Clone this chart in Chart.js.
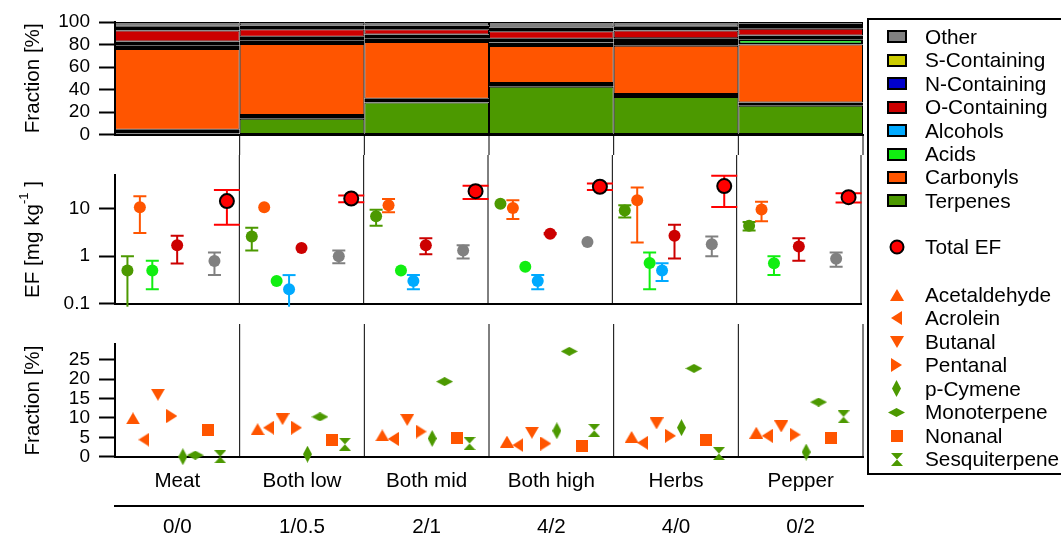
<!DOCTYPE html>
<html>
<head>
<meta charset="utf-8">
<script src="https://cdn.jsdelivr.net/npm/chart.js"></script>
<style>
html,body{margin:0;padding:0;background:#fff;width:1061px;height:534px;overflow:hidden;position:relative;}
canvas{position:absolute;left:0;display:block;}
.lg{position:absolute;font-family:'Liberation Sans',Arial,sans-serif;font-size:20.8px;line-height:24px;height:24px;white-space:nowrap;color:#000;}
.sw{position:absolute;box-sizing:border-box;border:2px solid #000;width:20px;height:13px;}
</style>
</head>
<body>
<canvas id="cA" width="870" height="155" style="top:0px"></canvas>
<canvas id="cB" width="870" height="169" style="top:155px"></canvas>
<canvas id="cC" width="870" height="210" style="top:324px"></canvas>
<div id="legendBox" style="position:absolute;left:867px;top:18px;width:210px;height:457px;border:2px solid #000;box-sizing:border-box;"></div>
<div id="legend"></div>
<script>
// ---------------- DATA ----------------
const categories = ['Meat', 'Both low', 'Both mid', 'Both high', 'Herbs', 'Pepper'];
const ratioLabels = ['0/0', '1/0.5', '2/1', '4/2', '4/0', '0/2'];
const fracTicks = [0, 20, 40, 60, 80, 100];
const efTicks = [0.1, 1, 10];
const compTicks = [0, 5, 10, 15, 20, 25];

// Top panel: fraction of total EF [%]
const fracTerpenes     = [1.0, 14.0, 28.6, 42.5, 33.3, 25.7];
const fracNContaining  = [3.2, 3.3, 3.3, 3.3, 2.8, 2.9];
const fracCarbonyls    = [71.8, 63.1, 50.4, 32.9, 42.9, 51.4];
const fracAcids        = [3.3, 3.3, 3.3, 3.2, 3.3, 4.7];
const fracAlcohols     = [3.3, 3.3, 3.3, 3.2, 3.3, 3.3];
const fracOContaining  = [9.8, 6.5, 4.6, 6.7, 6.8, 6.0];
const fracSContaining  = [3.3, 3.3, 3.3, 3.3, 3.3, 3.3];
const fracOther        = [4.3, 3.2, 3.2, 4.9, 4.3, 2.7];

// Middle panel: EF [mg/kg] with lower / upper error limits
const efTerpenes    = [0.5, 2.6, 7.0, 12.8, 9.3, 4.4];
const efTerpenesLo  = [0.086, 1.33, 4.4, null, 6.6, 3.5];
const efTerpenesHi  = [1.0, 4.0, 9.6, null, 11.9, 5.3];
const efCarbonyls   = [10.8, 10.8, 12.0, 10.4, 15.2, 9.7];
const efCarbonylsLo = [3.1, null, 8.5, 6.1, 1.94, 5.5];
const efCarbonylsHi = [18.5, null, 16.1, 15.2, 28.2, 14.1];
const efAcids       = [0.5, 0.3, 0.5, 0.6, 0.72, 0.71];
const efAcidsLo     = [0.2, null, null, null, 0.2, 0.4];
const efAcidsHi     = [0.8, null, null, null, 1.2, 1.0];
const efAlcohols    = [null, 0.2, 0.3, 0.3, 0.5, null];
const efAlcoholsLo  = [null, 0.086, 0.2, 0.2, 0.3, null];
const efAlcoholsHi  = [null, 0.4, 0.4, 0.4, 0.71, null];
const efOCont       = [1.7, 1.5, 1.7, 3.0, 2.7, 1.6];
const efOContLo     = [0.7, null, 1.1, 2.9, 0.9, 0.8];
const efOContHi     = [2.7, null, 2.4, 3.1, 4.6, 2.4];
const efOther       = [0.79, 1.0, 1.33, 2.0, 1.8, 0.89];
const efOtherLo     = [0.4, 0.71, 0.9, null, 1.0, 0.6];
const efOtherHi     = [1.2, 1.33, 1.7, null, 2.6, 1.2];
const efTotal       = [14.6, 16.6, 23.7, 29.4, 30.4, 17.7];
const efTotalLo     = [4.65, 13.9, 16.1, 25.0, 11.0, 13.7];
const efTotalHi     = [25.0, 19.1, 30.8, 34.5, 50.0, 21.5];

// Bottom panel: compound fractions [%]
const acetaldehyde  = [9.9, 7.1, 5.5, 3.9, 5.1, 6.2];
const acrolein      = [4.4, 7.5, 4.6, 3.0, 3.6, 5.4];
const butanal       = [16.0, 9.7, 9.5, 6.2, 8.6, 7.8];
const pentanal      = [10.5, 7.5, 6.5, 3.4, 5.4, 5.7];
const pCymene       = [0.0, 0.65, 4.7, 6.7, 7.5, 1.2];
const monoterpene   = [0.4, 10.3, 19.4, 27.2, 22.8, 14.1];
const nonanal       = [6.8, 4.3, 4.8, 2.8, 4.2, 4.8];
const sesquiterpene = [0.0, 3.2, 3.4, 6.8, 0.8, 10.3];

// ---------------- STYLE ----------------
const FAM = "'Liberation Sans', Arial, sans-serif";
Chart.defaults.font.family = FAM;
Chart.defaults.color = '#000';
const C = {terp:'#4C9900', carb:'#FF5500', acid:'#11EE11', alc:'#00AAFF', ocont:'#CC0000',
           ncont:'#0000CC', scont:'#CCCC00', other:'#808080', total:'#FF0000'};
const tickFont = {family: FAM, size: 19};
const labFont = {family: FAM, size: 20.6};
const intTicks = s => { s.ticks = categories.map((c, i) => ({value: i})); };

function yAxisCommon(ticksArr, titleText) {
  return {
    afterBuildTicks: s => { s.ticks = ticksArr.map(v => ({value: v})); },
    ticks: {font: tickFont, color: '#000', padding: 9, autoSkip: false, callback: v => String(v)},
    grid: {drawOnChartArea: false, drawTicks: true, tickLength: 16, tickWidth: 2, tickColor: '#000'},
    border: {display: true, width: 2, color: '#000'},
    title: {display: !!titleText, text: titleText || '', font: labFont, color: '#000', padding: {top: 21, bottom: 0}},
    afterFit: s => { s.width = 115; }
  };
}
function sepPlugin(mode) {
  return {
    id: 'sep' + mode,
    beforeDatasetsDraw(chart) { if (mode !== 'A') draw(chart); },
    afterDatasetsDraw(chart) { if (mode === 'A') draw(chart); }
  };
  function draw(chart) {
    const {ctx, chartArea: a, scales: {x}} = chart;
    const y0 = mode === 'A' ? a.bottom : 0;
    const y1 = mode === 'A' ? chart.height : a.bottom;
    ctx.save(); ctx.strokeStyle = '#000'; ctx.lineWidth = 1;
    for (let i = 0; i < categories.length; i++) {
      const px = x.getPixelForValue(i + 0.5);
      ctx.beginPath(); ctx.moveTo(px, y0); ctx.lineTo(px, y1); ctx.stroke();
    }
    ctx.restore();
  }
}
const baseOpts = {responsive: false, animation: false, events: [],
  plugins: {legend: {display: false}, tooltip: {enabled: false}}};

// ---------------- TOP: stacked fractions ----------------
// thin classes get a heavy outline (clamped by Chart.js to half the bar height) so they read as dark bands
const thinBorder = ctx => { const v = ctx.raw && ctx.raw.y; return v > 4 ? 2 : 3; };
const fracSeries = [
  {name: 'Terpenes', vals: fracTerpenes, color: C.terp, bw: 1},
  {name: 'N-Containing', vals: fracNContaining, color: C.ncont, bw: thinBorder},
  {name: 'Carbonyls', vals: fracCarbonyls, color: C.carb, bw: 1},
  {name: 'Acids', vals: fracAcids, color: C.acid, bw: thinBorder},
  {name: 'Alcohols', vals: fracAlcohols, color: C.alc, bw: thinBorder},
  {name: 'O-Containing', vals: fracOContaining, color: C.ocont, bw: 1},
  {name: 'S-Containing', vals: fracSContaining, color: C.scont, bw: thinBorder},
  {name: 'Other', vals: fracOther, color: C.other, bw: 1}
];
new Chart(document.getElementById('cA'), {
  type: 'bar',
  data: {datasets: fracSeries.map(s => ({
    label: s.name, data: s.vals.map((v, i) => ({x: i, y: v})),
    backgroundColor: s.color, borderColor: '#000', borderWidth: s.bw, borderSkipped: false,
    barPercentage: 1, categoryPercentage: 1, stack: 'f', inflateAmount: 0
  }))},
  options: Object.assign({}, baseOpts, {
    layout: {padding: {left: 0, right: 7, top: 22, bottom: 0}},
    scales: {
      x: {type: 'linear', min: -0.5, max: 5.5, offset: false, stacked: true,
          afterBuildTicks: intTicks,
          ticks: {display: false}, grid: {display: false, offset: false},
          border: {display: true, width: 2, color: '#000'},
          afterFit: s => { s.height = 13; }},
      y: Object.assign({stacked: true, min: 0, max: 100}, yAxisCommon(fracTicks, 'Fraction [%]'))
    }
  }),
  plugins: [sepPlugin('A')]
});

// ---------------- MIDDLE: EF (log) ----------------
const efOffsets = {terp: 0.1, carb: 0.2, acid: 0.3, alc: 0.4, ocont: 0.5, other: 0.8, total: 0.9};
const efSeries = [
  {name: 'Terpenes', key: 'terp', v: efTerpenes, lo: efTerpenesLo, hi: efTerpenesHi},
  {name: 'Carbonyls', key: 'carb', v: efCarbonyls, lo: efCarbonylsLo, hi: efCarbonylsHi},
  {name: 'Acids', key: 'acid', v: efAcids, lo: efAcidsLo, hi: efAcidsHi},
  {name: 'Alcohols', key: 'alc', v: efAlcohols, lo: efAlcoholsLo, hi: efAlcoholsHi},
  {name: 'O-Containing', key: 'ocont', v: efOCont, lo: efOContLo, hi: efOContHi},
  {name: 'Other', key: 'other', v: efOther, lo: efOtherLo, hi: efOtherHi},
  {name: 'Total EF', key: 'total', v: efTotal, lo: efTotalLo, hi: efTotalHi}
];
const errorBars = {
  id: 'errorBars',
  beforeDatasetsDraw(chart) {
    const {ctx, scales: {x, y}} = chart;
    ctx.save(); ctx.lineWidth = 2;
    chart.data.datasets.forEach(ds => {
      const cap = ds.capHalf;
      ctx.strokeStyle = ds.errColor;
      ds.data.forEach(d => {
        if (d.lo == null || d.hi == null) return;
        const px = x.getPixelForValue(d.x);
        const pl = y.getPixelForValue(d.lo), ph = y.getPixelForValue(d.hi);
        ctx.beginPath(); ctx.moveTo(px, pl); ctx.lineTo(px, ph); ctx.stroke();
        ctx.beginPath();
        ctx.moveTo(px - cap, ph); ctx.lineTo(px + cap, ph);
        if (d.lo >= y.min) { ctx.moveTo(px - cap, pl); ctx.lineTo(px + cap, pl); }
        ctx.stroke();
      });
    });
    ctx.restore();
  }
};
const efTitle = {
  id: 'efTitle',
  afterDraw(chart) {
    const {ctx, chartArea: a} = chart;
    const fMain = '20.6px ' + FAM, fSup = '13px ' + FAM;
    ctx.save();
    ctx.translate(33, (a.top + a.bottom) / 2); ctx.rotate(-Math.PI / 2);
    ctx.fillStyle = '#000'; ctx.textBaseline = 'middle'; ctx.textAlign = 'left';
    ctx.font = fMain; const w1 = ctx.measureText('EF [mg kg').width, w3 = ctx.measureText(' ]').width;
    ctx.font = fSup; const w2 = ctx.measureText('-1').width;
    let xx = -(w1 + w2 + w3) / 2;
    ctx.font = fMain; ctx.fillText('EF [mg kg', xx, 0); xx += w1;
    ctx.font = fSup; ctx.fillText('-1', xx, -9); xx += w2;
    ctx.font = fMain; ctx.fillText(' ]', xx, 0);
    ctx.restore();
  }
};
new Chart(document.getElementById('cB'), {
  type: 'scatter',
  data: {datasets: efSeries.map(s => {
    const isTot = s.key === 'total';
    return {
      label: s.name,
      data: s.v.map((v, i) => v == null ? null : {x: i - 0.5 + efOffsets[s.key], y: v, lo: s.lo[i], hi: s.hi[i]}).filter(d => d),
      backgroundColor: C[s.key], borderColor: '#000', borderWidth: isTot ? 2 : 0,
      pointRadius: isTot ? 7 : 6, pointHoverRadius: isTot ? 7 : 6,
      errColor: C[s.key], capHalf: isTot ? 13 : 6.5, clip: false
    };
  })},
  options: Object.assign({}, baseOpts, {
    layout: {padding: {left: 0, right: 7, top: 12.3, bottom: 0}},
    scales: {
      x: {type: 'linear', min: -0.5, max: 5.5, afterBuildTicks: intTicks,
          ticks: {display: false}, grid: {display: false},
          border: {display: true, width: 2, color: '#000'}, afterFit: s => { s.height = 12.3; }},
      y: Object.assign({type: 'logarithmic', min: 0.1, max: 51}, yAxisCommon(efTicks, null))
    }
  }),
  plugins: [sepPlugin('B'), errorBars, efTitle]
});

// ---------------- BOTTOM: compounds ----------------
function shape(kind, color) {
  const dims = {triUp: [14, 12], triDown: [14, 12], triLeft: [11, 14], triRight: [11, 14],
                diaTall: [9, 17], diaWide: [17, 9], square: [12, 12], hourglass: [12, 13]};
  const [w, h] = dims[kind];
  const c = document.createElement('canvas'); c.width = w; c.height = h;
  const g = c.getContext('2d'); g.fillStyle = color; g.beginPath();
  if (kind === 'triUp') { g.moveTo(0, h); g.lineTo(w / 2, 0); g.lineTo(w, h); }
  else if (kind === 'triDown') { g.moveTo(0, 0); g.lineTo(w, 0); g.lineTo(w / 2, h); }
  else if (kind === 'triLeft') { g.moveTo(w, 0); g.lineTo(w, h); g.lineTo(0, h / 2); }
  else if (kind === 'triRight') { g.moveTo(0, 0); g.lineTo(0, h); g.lineTo(w, h / 2); }
  else if (kind === 'diaTall' || kind === 'diaWide') { g.moveTo(w / 2, 0); g.lineTo(w, h / 2); g.lineTo(w / 2, h); g.lineTo(0, h / 2); }
  else if (kind === 'square') { g.rect(0, 0, w, h); }
  else if (kind === 'hourglass') { g.moveTo(0, 0); g.lineTo(w, 0); g.lineTo(w / 2, h / 2); g.closePath(); g.moveTo(w / 2, h / 2); g.lineTo(w, h); g.lineTo(0, h); }
  g.closePath(); g.fill();
  return c;
}
const compSeries = [
  {name: 'Acetaldehyde', v: acetaldehyde, kind: 'triUp', color: C.carb, off: 0.144},
  {name: 'Acrolein', v: acrolein, kind: 'triLeft', color: C.carb, off: 0.232},
  {name: 'Butanal', v: butanal, kind: 'triDown', color: C.carb, off: 0.344},
  {name: 'Pentanal', v: pentanal, kind: 'triRight', color: C.carb, off: 0.456},
  {name: 'p-Cymene', v: pCymene, kind: 'diaTall', color: C.terp, off: 0.544},
  {name: 'Monoterpene', v: monoterpene, kind: 'diaWide', color: C.terp, off: 0.644},
  {name: 'Nonanal', v: nonanal, kind: 'square', color: C.carb, off: 0.744},
  {name: 'Sesquiterpene', v: sesquiterpene, kind: 'hourglass', color: C.terp, off: 0.844}
];
new Chart(document.getElementById('cC'), {
  type: 'scatter',
  data: {datasets: compSeries.map(s => ({
    label: s.name, data: s.v.map((v, i) => ({x: i - 0.5 + s.off, y: v})),
    pointStyle: shape(s.kind, s.color), pointRadius: 6, backgroundColor: s.color, clip: false
  }))},
  options: Object.assign({}, baseOpts, {
    layout: {padding: {left: 0, right: 7, top: 12.7, bottom: 0}},
    scales: {
      x: {type: 'linear', min: -0.5, max: 5.5, weight: 0, afterBuildTicks: intTicks,
          ticks: {font: labFont, color: '#000', padding: 4, maxRotation: 0, autoSkip: false, callback: v => categories[v]},
          grid: {display: false}, border: {display: true, width: 2, color: '#000'},
          afterFit: s => { s.height = 49; }},
      x2: {type: 'linear', position: 'bottom', min: -0.5, max: 5.5, weight: 1, afterBuildTicks: intTicks,
          ticks: {font: labFont, color: '#000', padding: 1.5, maxRotation: 0, autoSkip: false, callback: v => ratioLabels[v]},
          grid: {display: false}, border: {display: true, width: 2, color: '#000'},
          afterFit: s => { s.height = 28.3; }},
      y: Object.assign({min: 0, max: 29}, yAxisCommon(compTicks, 'Fraction [%]'))
    }
  }),
  plugins: [sepPlugin('C')]
});

// ---------------- LEGEND ----------------
const legendEl = document.getElementById('legend');
const legendItems = [
  {label: 'Other', sw: C.other}, {label: 'S-Containing', sw: C.scont}, {label: 'N-Containing', sw: C.ncont},
  {label: 'O-Containing', sw: C.ocont}, {label: 'Alcohols', sw: C.alc}, {label: 'Acids', sw: C.acid},
  {label: 'Carbonyls', sw: C.carb}, {label: 'Terpenes', sw: C.terp}
];
const legendY1 = [36.7, 60.2, 83.6, 107.1, 130.5, 154.0, 177.4, 200.9];
legendItems.forEach((it, k) => {
  const y = legendY1[k];
  const s = document.createElement('div'); s.className = 'sw';
  s.style.left = '887px'; s.style.top = (y - 6.5) + 'px'; s.style.background = it.sw;
  legendEl.appendChild(s);
  const t = document.createElement('div'); t.className = 'lg'; t.textContent = it.label;
  t.style.left = '925px'; t.style.top = (y - 12) + 'px'; legendEl.appendChild(t);
});
(function () {
  const y = 247.3;
  const c = document.createElement('canvas'); c.width = 18; c.height = 18;
  const g = c.getContext('2d'); g.fillStyle = C.total; g.strokeStyle = '#000'; g.lineWidth = 2;
  g.beginPath(); g.arc(9, 9, 6.5, 0, Math.PI * 2); g.fill(); g.stroke();
  c.style.left = (896.7 - 9) + 'px'; c.style.top = (y - 9) + 'px'; legendEl.appendChild(c);
  const t = document.createElement('div'); t.className = 'lg'; t.textContent = 'Total EF';
  t.style.left = '925px'; t.style.top = (y - 12) + 'px'; legendEl.appendChild(t);
})();
const legendY2 = [295, 318.4, 341.9, 365.3, 388.7, 412.2, 435.6, 459];
compSeries.forEach((s, k) => {
  const y = legendY2[k];
  const c = shape(s.kind, s.color);
  c.style.left = (896.7 - c.width / 2) + 'px'; c.style.top = (y - c.height / 2) + 'px';
  legendEl.appendChild(c);
  const t = document.createElement('div'); t.className = 'lg'; t.textContent = s.name;
  t.style.left = '925px'; t.style.top = (y - 12) + 'px'; legendEl.appendChild(t);
});
</script>
</body>
</html>
